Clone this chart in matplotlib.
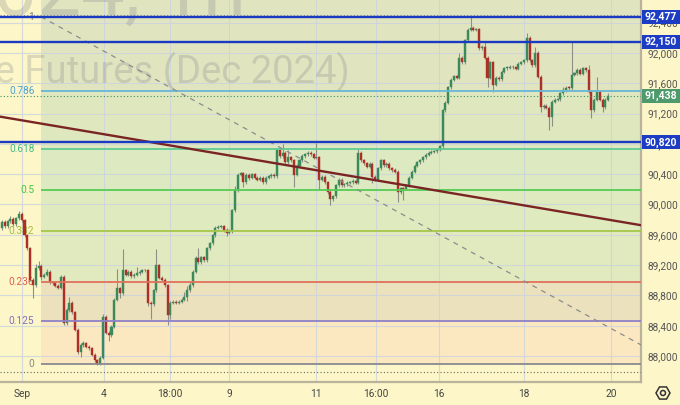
import matplotlib.pyplot as plt
import numpy as np
import matplotlib.transforms as mtransforms
from matplotlib.patches import Rectangle, RegularPolygon, Circle

plt.rcParams['font.family'] = ['Roboto', 'DejaVu Sans']

# ---- hourly candles (bar index 0..216), open of bar i = close of bar i-1
first_open = 89690
closes = [
    89770, 89715, 89780, 89810, 89740, 89820, 89875, 89795, 89595, 89425,
    89005, 88935, 89160, 89190, 89045, 89070, 89110, 88975, 88965, 88925,
    88900, 89045, 88435, 88605, 88700, 88580, 88345, 88050, 88145, 88170,
    88120, 88105, 88015, 87945, 87895, 87975, 88515, 88305, 88275, 88385,
    88740, 88895, 88830, 89135, 89070, 89110, 89055, 89070, 89095, 89110,
    89135, 89130, 88700, 88685, 88870, 89200, 89030, 89005, 88935, 88540,
    88700, 88715, 88700, 88715, 88740, 88780, 88870, 88935, 89110, 89295,
    89240, 89305, 89265, 89425, 89490, 89595, 89690, 89705, 89715, 89665,
    89625, 89650, 89925, 90190, 90390, 90415, 90295, 90390, 90350, 90400,
    90350, 90325, 90350, 90295, 90350, 90375, 90390, 90375, 90720, 90640,
    90680, 90560, 90625, 90585, 90390, 90510, 90585, 90640, 90665, 90680,
    90665, 90615, 90625, 90325, 90365, 90295, 90165, 90070, 90110, 90255,
    90325, 90255, 90270, 90285, 90295, 90310, 90285, 90680, 90585, 90545,
    90495, 90535, 90365, 90325, 90480, 90585, 90520, 90535, 90480, 90455,
    90430, 90165, 90215, 90205, 90255, 90350, 90430, 90510, 90560, 90585,
    90625, 90655, 90680, 90695, 90705, 90720, 90770, 91245, 91340, 91550,
    91645, 91695, 91670, 91935, 91880, 92170, 92305, 92330, 92305, 92315,
    92065, 92080, 91935, 91670, 91880, 91580, 91670, 91655, 91750, 91800,
    91805, 91815, 91810, 91790, 91855, 91880, 91905, 92200, 91905, 91840,
    92000, 91685, 91285, 91300, 91275, 91155, 91355, 91380, 91390, 91470,
    91510, 91540, 91535, 91710, 91735, 91775, 91725, 91800, 91775, 91485,
    91245, 91380, 91485, 91380, 91285, 91380, 91438,
]
# wick lengths above / below the body
wick_up = [
    30, 20, 20, 40, 20, 20, 40, 30, 20, 20,
    20, 20, 60, 60, 20, 30, 40, 20, 20, 20,
    20, 20, 20, 30, 80, 20, 20, 20, 30, 30,
    20, 20, 20, 20, 20, 20, 40, 20, 20, 20,
    20, 250, 20, 280, 20, 20, 20, 20, 80, 20,
    20, 20, 20, 20, 20, 210, 20, 20, 20, 20,
    20, 20, 20, 20, 20, 60, 60, 60, 20, 20,
    130, 20, 20, 20, 20, 20, 20, 30, 20, 20,
    20, 20, 20, 60, 20, 20, 20, 20, 20, 20,
    20, 20, 20, 20, 20, 20, 20, 20, 20, 20,
    120, 20, 100, 20, 20, 20, 20, 20, 20, 20,
    20, 20, 185, 20, 20, 20, 20, 20, 20, 20,
    20, 20, 20, 20, 20, 20, 20, 60, 20, 20,
    20, 20, 20, 20, 20, 20, 20, 20, 20, 20,
    20, 20, 20, 20, 20, 20, 20, 20, 20, 20,
    20, 20, 20, 20, 20, 20, 20, 20, 20, 20,
    20, 20, 20, 60, 20, 20, 20, 145, 20, 20,
    20, 20, 60, 20, 20, 20, 20, 20, 20, 20,
    20, 20, 20, 20, 20, 20, 20, 70, 20, 20,
    80, 20, 20, 20, 20, 20, 20, 20, 20, 20,
    40, 20, 20, 440, 20, 20, 20, 20, 20, 60,
    20, 20, 200, 20, 20, 20, 30,
]
wick_dn = [
    30, 20, 30, 20, 20, 20, 20, 20, 20, 20,
    20, 170, 20, 20, 40, 20, 20, 30, 30, 20,
    20, 20, 30, 20, 20, 20, 20, 30, 60, 20,
    20, 20, 20, 20, 20, 20, 20, 20, 80, 20,
    20, 20, 60, 20, 20, 20, 20, 20, 20, 20,
    20, 20, 40, 190, 20, 20, 20, 20, 20, 130,
    50, 20, 20, 20, 20, 20, 60, 20, 20, 20,
    20, 20, 20, 20, 20, 20, 20, 20, 20, 30,
    40, 20, 20, 20, 20, 20, 60, 20, 30, 20,
    20, 20, 20, 20, 20, 20, 20, 20, 20, 20,
    20, 20, 20, 20, 160, 20, 20, 20, 20, 20,
    20, 20, 20, 120, 20, 20, 20, 80, 20, 20,
    20, 20, 20, 20, 20, 20, 20, 20, 20, 20,
    20, 20, 80, 20, 20, 20, 20, 20, 20, 20,
    20, 130, 20, 150, 20, 20, 20, 20, 20, 20,
    20, 20, 20, 20, 20, 20, 20, 40, 20, 20,
    20, 20, 20, 20, 20, 20, 20, 20, 20, 20,
    20, 20, 20, 120, 20, 100, 20, 20, 20, 20,
    20, 20, 20, 20, 20, 20, 20, 20, 20, 20,
    20, 20, 60, 20, 20, 170, 120, 20, 20, 20,
    20, 20, 20, 20, 20, 20, 20, 20, 20, 20,
    100, 20, 20, 20, 60, 20, 20,
]

# fib retracement drawing
fib_ratios = [0, 0.125, 0.236, 0.382, 0.5, 0.618, 0.786, 1]
fib_low = 87894
fib_high = 92477
fib_start = 13.9
fib_end = 240.2
fib_line_colors = ['#8a8a90', '#8f7fc8', '#e2705c', '#a6c64a', '#55cc55', '#5fcb93', '#68b6d8', '#8a8a90']
fib_text_colors = ['#8a8a8a', '#8070c0', '#e0604f', '#a0c040', '#44c844', '#44bb88', '#4aa3d3', '#7a7a7a']
zone_colors = ['#fbe8c1', '#ebe1bd', '#e1e9bf', '#dfeabf', '#dde9c0', '#dfe7bf', '#e1e5bf', '#e1e5bf']

levels = [92477, 92150, 90820]
last_price = 91438
top_dotted = 92495
bottom_dotted = 87790
trend_a = (0, 91155)
trend_b = (216, 89800)

price_ticks = [88000, 88400, 88800, 89200, 89600, 90000, 90400, 90800, 91200, 91600, 92000, 92400]
time_ticks = [7, 36.3, 59.9, 80.9, 111.9, 133.3, 155.7, 186, 217]
time_labels = ['Sep', '4', '18:00', '9', '11', '16:00', '16', '18', '20']

bg = '#fcf6c8'
W, H = 680, 405
fig = plt.figure(figsize=(6.8, 4.05), dpi=100)
fig.patch.set_facecolor(bg)
ax = fig.add_axes([0, 23 / H, 641 / W, 382 / H])
ax.set_facecolor(bg)
xmin, xmax = -0.734, 227.7
ax.set_xlim(xmin, xmax)
ax.set_ylim(87657, 92699)

# watermark
ax.text(246 / W, 1 - 15 / H, 'SIZ2024, 1h', transform=fig.transFigure,
        ha='right', va='baseline', fontsize=56, color='#787b86', alpha=0.25, zorder=0.8)
ax.text(350 / W, 1 - 83 / H, 'USD/RUB Exchange Rate Futures (Dec 2024)', transform=fig.transFigure,
        ha='right', va='baseline', fontsize=27.5, color='#787b86', alpha=0.25, zorder=0.8)

# fib zones
fib_prices = [fib_low + r * (fib_high - fib_low) for r in fib_ratios]
for k in range(len(fib_prices) - 1):
    ax.fill_between([fib_start, xmax], fib_prices[k], fib_prices[k + 1],
                    color=zone_colors[k], lw=0, zorder=0.2)
ax.fill_between([fib_start, xmax], fib_prices[-1], 92699, color=zone_colors[-1], lw=0, zorder=0.2)
for r, p, lc, tc in zip(fib_ratios, fib_prices, fib_line_colors, fib_text_colors):
    ax.hlines(p, fib_start, xmax, color=lc, lw=1.3, zorder=3)
    ax.text(fib_start - 2.4, p, str(r), ha='right', va='center', color=tc,
            fontsize=7.3, zorder=1)
ax.plot([fib_start, fib_end], [fib_high, fib_low], ls=(0, (4, 4)), color='#8c8c8c',
        lw=0.9, zorder=4)

# grid
ax.set_xticks(time_ticks)
ax.set_xticklabels(time_labels)
ax.set_yticks(price_ticks)
ax.set_yticklabels([f'{p:,}' for p in price_ticks])
ax.set_axisbelow(True)
ax.grid(color='#cbd3de', lw=0.8, alpha=0.8)
for gl in ax.get_xgridlines() + ax.get_ygridlines():
    gl.set_zorder(0.5)

# candles
opens = [first_open] + closes[:-1]
idx = np.arange(len(closes))
for i, o, c, u, d in zip(idx, opens, closes, wick_up, wick_dn):
    hi = max(o, c) + u
    lo = min(o, c) - d
    ax.vlines(i, lo, hi, color='#8e8e86', lw=0.8, zorder=2)
    col = '#3b8a5c' if c >= o else '#ad2f25'
    ax.bar(i, max(abs(c - o), 10), bottom=min(o, c), width=0.72, color=col,
           edgecolor=col, lw=0.3, zorder=2.2)

# drawings
ax.axline(trend_a, trend_b, color='#7b2424', lw=1.7, zorder=4.5)
ax.axhline(last_price, color='#3f8f5f', lw=0.8, ls=(0, (1, 2)), zorder=4)
ax.axhline(top_dotted, color='#8a8a8a', lw=0.8, ls=(0, (1, 2)), zorder=0.6)
ax.axhline(bottom_dotted, color='#6a6a6a', lw=0.8, ls=(0, (1, 2)), zorder=4)
for p in levels:
    ax.axhline(p, color='#1a3bc1', lw=1.7, zorder=5)

# axes styling
for s in ['top', 'left']:
    ax.spines[s].set_visible(False)
for s in ['right', 'bottom']:
    ax.spines[s].set_color('#b8b39a')
    ax.spines[s].set_linewidth(1.6)
ax.yaxis.tick_right()
ax.tick_params(axis='y', length=0, pad=5, labelsize=7.3, labelcolor='#555555')
ax.tick_params(axis='x', length=0, pad=5, labelsize=7.3, labelcolor='#444444')

# price label boxes on the axis
trans = mtransforms.blended_transform_factory(fig.transFigure, ax.transData)
box_h = 14 * 13.2
for p, fc in [(levels[0], '#1c3cc4'), (levels[1], '#1c3cc4'), (levels[2], '#1c3cc4'),
              (last_price, '#4f9a6c')]:
    ax.add_patch(Rectangle((642 / W, p - box_h / 2), 38 / W, box_h, transform=trans,
                           facecolor=fc, edgecolor='none', clip_on=False, zorder=10))
    ax.text(661 / W, p, f'{p:,}', transform=trans, ha='center', va='center',
            color='white', fontsize=7.5, fontweight='bold', zorder=11, clip_on=False)

# settings icon
fig.add_artist(RegularPolygon((6.63, 0.12), 6, radius=0.07, orientation=np.pi / 6,
                              transform=fig.dpi_scale_trans, facecolor='none',
                              edgecolor='#333333', lw=1.1))
fig.add_artist(Circle((6.63, 0.12), 0.025, transform=fig.dpi_scale_trans,
                      facecolor='none', edgecolor='#333333', lw=1.1))

fig.savefig('out.png', dpi=100, facecolor=bg)
